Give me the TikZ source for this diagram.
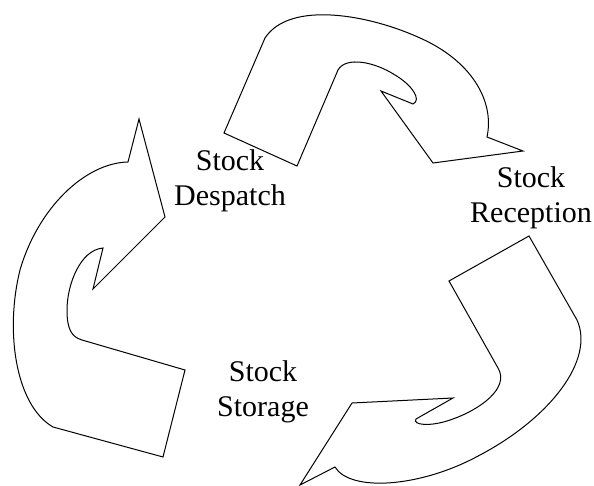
\documentclass[tikz,border=0pt]{standalone}
\usepackage{fontspec}
\setmainfont{Liberation Serif}
\usepackage{tikz}
\usetikzlibrary{positioning}

\begin{document}
\begin{tikzpicture}[x=1pt,y=-1pt,
  flowarrow/.style={draw=black,fill=white,line width=1pt,line join=miter},
  stocklabel/.style={font=\fontsize{30}{35}\selectfont,align=center,inner sep=0pt}]
  \useasboundingbox (0,0) rectangle (594,486);
  % Despatch -> Reception (top)
  \draw[flowarrow] (224,133) -- (297,166) -- (338,70)
    .. controls (346,56) and (375,62) .. (395,75)
    .. controls (412,85) and (422,100) .. (413,104)
    -- (381,91) -- (433,163) -- (523,151) -- (487,137)
    .. controls (495,100) and (470,60) .. (420,38)
    .. controls (370,15) and (290,0) .. (265,38) -- cycle;
  % Reception -> Storage (bottom right)
  \draw[flowarrow] (529,236) -- (449,281) -- (498,368)
    .. controls (510,388) and (480,410) .. (450,420)
    .. controls (430,427) and (412,425) .. (416,419)
    -- (453,398) -- (352,403) -- (300,485) -- (335,467)
    .. controls (350,492) and (420,488) .. (480,455)
    .. controls (550,418) and (595,360) .. (577,320) -- cycle;
  % Storage -> Despatch (left)
  \draw[flowarrow] (139,119) -- (165,217) -- (93,289) -- (103,248)
    .. controls (80,250) and (67,285) .. (67,310)
    .. controls (67,330) and (72,337) .. (82,340)
    -- (185,370) -- (163,457) -- (53,427)
    .. controls (15,405) and (5,330) .. (20,270)
    .. controls (38,208) and (85,163) .. (128,162) -- cycle;
  % Labels
  \node[stocklabel] (despatch) at (230,181) {Stock\\Despatch};
  \node[stocklabel] (reception) at (531,198) {Stock\\Reception};
  \node[stocklabel] (storage) at (263,392) {Stock\\Storage};
\end{tikzpicture}
\end{document}
